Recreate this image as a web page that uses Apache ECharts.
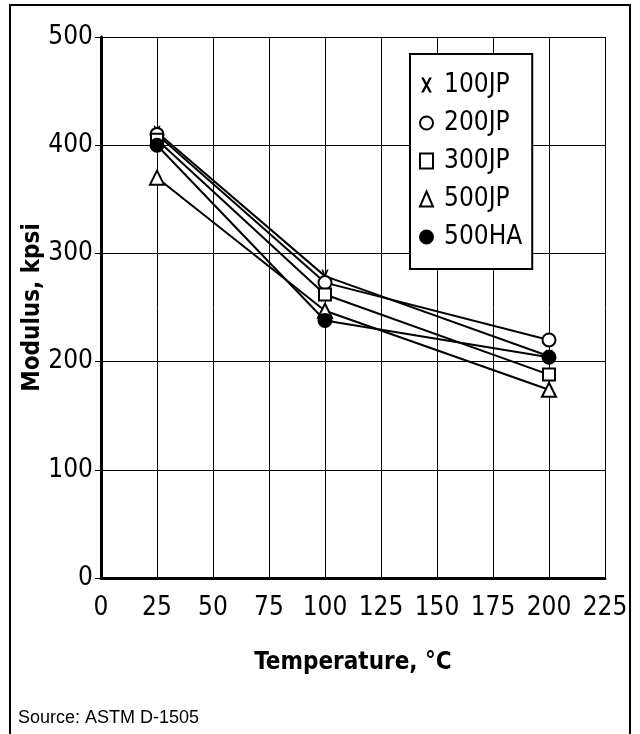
<!DOCTYPE html>
<html><head><meta charset="utf-8">
<script src="https://cdn.jsdelivr.net/npm/echarts@6/dist/echarts.min.js"></script>
<style>html,body{margin:0;padding:0;background:#fff}#c{width:640px;height:734px}</style>
</head><body><div id="c"></div>
<script>
const temps = [25, 100, 200];
const s100JP = [412, 279, 205];
const s200JP = [410, 273, 220];
const s300JP = [405, 262, 188];
const s500JP = [370, 247, 174];
const s500HA = [400, 238, 204];
const seriesNames = ['100JP', '200JP', '300JP', '500JP', '500HA'];
const xTicks = [0, 25, 50, 75, 100, 125, 150, 175, 200, 225];
const yTicks = [0, 100, 200, 300, 400, 500];

const NARROW = '"DejaVu Sans Condensed", "Liberation Sans Narrow", sans-serif';
const xPath = 'path://M0,0L2.4,0L5,4.9L7.6,0L10,0L6.3,7L10,14L7.6,14L5,9.1L2.4,14L0,14L3.7,7Z';
const syms = [xPath, 'circle', 'rect', 'triangle', 'circle'];
const fills = ['#000', '#fff', '#fff', '#fff', '#000'];
const sizes = [[10, 13], 13, 12, 14, 13];
const vals = [s100JP, s200JP, s300JP, s500JP, s500HA];

const series = seriesNames.map((n, i) => ({
  name: n, type: 'line',
  data: temps.map((t, j) => [t, vals[i][j]]),
  symbol: syms[i], symbolSize: sizes[i], showSymbol: true, symbolKeepAspect: true,
  lineStyle: {color: '#000', width: 2},
  itemStyle: {color: fills[i], borderColor: '#000', borderWidth: i === 0 ? 0 : 2},
  z: 2 + i
}));

const chart = echarts.init(document.getElementById('c'), null, {renderer: 'canvas'});
chart.setOption({
  backgroundColor: '#fff',
  animation: false,
  grid: {left: 101, right: 35, top: 37, bottom: 156, containLabel: false},
  xAxis: {
    type: 'value', min: 0, max: 225, interval: 25,
    name: 'Temperature, °C', nameLocation: 'middle', nameGap: 73, nameMoveOverlap: false,
    nameTextStyle: {fontFamily: NARROW, fontWeight: 'bold', fontSize: 24, color: '#000'},
    axisLine: {show: true, lineStyle: {color: '#000', width: 3}},
    axisTick: {show: false},
    axisLabel: {fontFamily: NARROW, fontSize: 26, color: '#000', margin: 17,
      formatter: v => xTicks.includes(v) ? String(v) : ''},
    splitLine: {show: true, lineStyle: {color: '#000', width: 1}}
  },
  yAxis: {
    type: 'value', min: 0, max: 500, interval: 100,
    name: 'Modulus, kpsi', nameLocation: 'middle', nameGap: 56, nameRotate: 90, nameMoveOverlap: false,
    nameTextStyle: {fontFamily: NARROW, fontWeight: 'bold', fontSize: 24, color: '#000'},
    axisLine: {show: true, lineStyle: {color: '#000', width: 3}},
    axisTick: {show: true, length: 6, lineStyle: {color: '#000', width: 1}},
    axisLabel: {fontFamily: NARROW, fontSize: 26, color: '#000', margin: 8,
      formatter: v => yTicks.includes(v) ? String(v) : ''},
    splitLine: {show: true, lineStyle: {color: '#000', width: 1}}
  },
  legend: {
    orient: 'vertical', left: 410, top: 54, width: 120,
    backgroundColor: '#fff', borderColor: '#000', borderWidth: 2,
    padding: [18, 10, 19, 9], itemGap: 12, itemWidth: 13, itemHeight: 15,
    textStyle: {fontFamily: NARROW, fontSize: 26, color: '#000', padding: [0, 0, 0, 6]},
    data: seriesNames.map((n, i) => ({name: n, icon: syms[i]})),
    selectedMode: false
  },
  graphic: [
    {type: 'rect', shape: {x: 10, y: 5, width: 620, height: 740}, style: {fill: 'none', stroke: '#000', lineWidth: 2}, silent: true},
    {type: 'text', left: 18, top: 709, style: {text: 'Source: ASTM D-1505', font: '18px "Liberation Sans", Arial, sans-serif', fill: '#000'}}
  ],
  series: series
});
</script></body></html>
